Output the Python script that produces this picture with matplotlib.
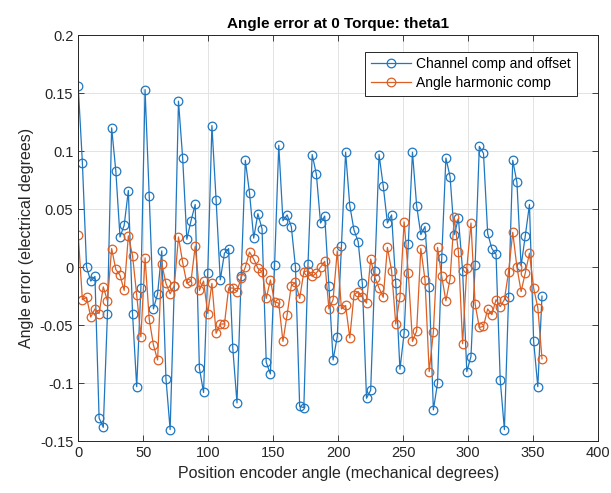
import numpy as np
from matplotlib import pyplot as plt

# values
channel_comp = [
    0.156, 0.090, 0.000, -0.012, -0.008, -0.130, -0.138, -0.040, 0.120, 0.083,
    0.026, 0.036, 0.066, -0.040, -0.103, -0.018, 0.153, 0.061, -0.036, -0.023,
    0.014, -0.096, -0.140, -0.016, 0.143, 0.094, 0.024, 0.040, 0.054, -0.087,
    -0.108, -0.005, 0.122, 0.058, -0.011, 0.012, 0.016, -0.070, -0.117, -0.008,
    0.092, 0.064, 0.025, 0.046, 0.033, -0.082, -0.092, 0.002, 0.105, 0.040,
    0.045, 0.035, 0.000, -0.120, -0.121, 0.003, 0.097, 0.080, 0.038, 0.044,
    -0.016, -0.080, -0.060, 0.018, 0.099, 0.053, 0.032, 0.022, -0.014, -0.113,
    -0.106, -0.003, 0.097, 0.070, 0.038, 0.045, -0.014, -0.088, -0.057, 0.020,
    0.099, 0.053, 0.028, 0.035, -0.017, -0.123, -0.100, 0.008, 0.094, 0.078,
    0.028, 0.042, -0.003, -0.090, -0.077, 0.002, 0.104, 0.098, 0.029, 0.016,
    0.011, -0.097, -0.140, -0.026, 0.092, 0.073, 0.001, 0.027, 0.054, -0.064,
    -0.103, -0.025,
]
harmonic_comp = [
    0.028, -0.028, -0.026, -0.043, -0.036, -0.040, -0.017, -0.029, 0.016, -0.002,
    -0.007, -0.020, 0.027, 0.010, -0.024, -0.060, 0.008, -0.045, -0.067, -0.080,
    0.003, -0.014, -0.023, -0.016, 0.026, 0.004, -0.014, -0.012, 0.018, -0.020,
    -0.012, -0.040, -0.014, -0.057, -0.049, -0.049, -0.018, -0.018, -0.021, -0.009,
    0.000, 0.013, 0.007, -0.001, -0.004, -0.027, -0.011, -0.030, -0.031, -0.064,
    -0.041, -0.016, -0.013, -0.027, -0.004, -0.003, -0.008, -0.005, 0.000, 0.005,
    -0.036, -0.028, 0.014, -0.036, -0.033, -0.061, -0.024, -0.021, -0.026, -0.031,
    0.007, -0.009, -0.018, -0.026, 0.017, -0.003, -0.049, -0.026, 0.039, -0.005,
    -0.064, -0.055, 0.016, -0.011, -0.090, -0.056, 0.017, -0.008, -0.029, -0.010,
    0.043, 0.013, -0.066, -0.001, 0.038, -0.032, -0.052, -0.051, -0.036, -0.041,
    -0.028, -0.034, -0.028, -0.004, 0.030, 0.000, -0.021, -0.005, 0.012, -0.018,
    -0.035, -0.079,
]
angle = np.arange(len(channel_comp)) * 360.0 / len(channel_comp)

xticks = [0, 50, 100, 150, 200, 250, 300, 350, 400]
yticks = [-0.15, -0.1, -0.05, 0, 0.05, 0.1, 0.15, 0.2]
ytick_labels = ['-0.15', '-0.1', '-0.05', '0', '0.05', '0.1', '0.15', '0.2']

plt.rcParams['font.family'] = ['Liberation Sans', 'DejaVu Sans']

fig = plt.figure(figsize=(6.11, 4.93), dpi=100)
ax = fig.add_axes([0.128, 0.105, 0.851, 0.824])

ax.plot(angle, channel_comp, '-o', color='#1f77c0', lw=0.9, ms=6.2,
        mfc='none', mew=0.9, label='Channel comp and offset')
ax.plot(angle, harmonic_comp, '-o', color='#dc5f24', lw=0.9, ms=6.2,
        mfc='none', mew=0.9, label='Angle harmonic comp')

ax.set_xlim(0, 400)
ax.set_ylim(-0.15, 0.2)
ax.set_xticks(xticks)
ax.set_yticks(yticks)
ax.set_yticklabels(ytick_labels)
ax.tick_params(direction='in', top=True, right=True, labelsize=10.5,
               colors='#262626', length=4, width=0.6)
ax.grid(True, color='#e3e3e3', lw=0.7)
ax.set_axisbelow(True)
for s in ax.spines.values():
    s.set_color('#262626')
    s.set_linewidth(0.7)

ax.set_title('Angle error at 0 Torque: theta1', fontsize=11, fontweight='bold', pad=5)
ax.set_xlabel('Position encoder angle (mechanical degrees)', fontsize=11.5, color='#262626')
ax.set_ylabel('Angle error (electrical degrees)', fontsize=11.5, color='#262626')

leg = ax.legend(loc='upper right', fontsize=10, fancybox=False, framealpha=1,
                edgecolor='#262626', handlelength=2.9, borderpad=0.4,
                labelspacing=0.35, handletextpad=0.4,
                bbox_to_anchor=(0.972, 0.976))
leg.get_frame().set_linewidth(0.7)

plt.savefig('out.png', dpi=100)
